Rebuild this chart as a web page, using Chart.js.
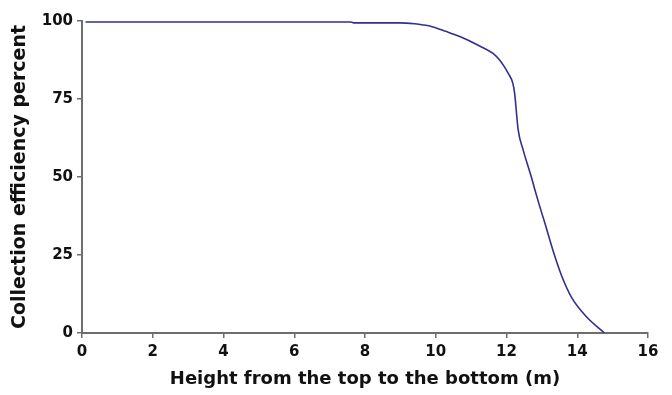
<!DOCTYPE html>
<html>
<head>
<meta charset="utf-8">
<script src="https://cdn.jsdelivr.net/npm/chart.js@4"></script>
<style>
  html, body { margin: 0; padding: 0; background: #fff; }
  #wrap { width: 672px; height: 395px; }
</style>
</head>
<body>
<div id="wrap"><canvas id="chart" width="672" height="395"></canvas></div>
<script>
// values
const heights = [0.1, 2, 4, 6, 7.6, 7.7, 9.0, 9.4, 9.6, 9.83, 10.3, 10.68, 11.24, 11.62, 11.81, 11.9,
                 12.05, 12.18, 12.23, 12.33, 12.47, 12.7, 12.8, 12.92, 13.08, 13.31, 13.55, 13.83, 14.26, 14.77];
const efficiency = [99.7, 99.7, 99.7, 99.7, 99.7, 99.4, 99.4, 99.1, 98.8, 98.4, 96.6, 95.0, 92.0, 89.6, 87.4, 86.0,
                    83.2, 80.0, 76.8, 65.1, 58.7, 50.1, 46.0, 41.3, 35.4, 26.6, 18.6, 11.6, 5.2, 0];
const xTicks = [0, 2, 4, 6, 8, 10, 12, 14, 16];
const yTicks = [0, 25, 50, 75, 100];

const points = heights.map((h, i) => ({ x: h, y: efficiency[i] }));

const tickFont = { family: 'DejaVu Sans, sans-serif', size: 15, weight: 'bold' };
const xTitleFont = { family: 'DejaVu Sans, sans-serif', size: 18, weight: 'bold' };
const yTitleFont = { family: 'DejaVu Sans, sans-serif', size: 19, weight: 'bold' };
const axisGrey = '#6e6e6e';

const ctx = document.getElementById('chart').getContext('2d');
new Chart(ctx, {
    type: 'scatter',
    data: {
        datasets: [{
            data: points,
            showLine: true,
            borderColor: '#30308f',
            borderWidth: 1.6,
            pointRadius: 0,
            cubicInterpolationMode: 'monotone',
            fill: false
        }]
    },
    options: {
        responsive: false,
        animation: false,
        layout: { padding: { left: 0, right: 24, top: 21, bottom: 0 } },
        plugins: { legend: { display: false }, tooltip: { enabled: false } },
        scales: {
            x: {
                type: 'linear',
                min: 0,
                max: 16,
                afterBuildTicks: axis => { axis.ticks = xTicks.map(v => ({ value: v })); },
                afterFit: axis => { axis.height = 62; },
                grid: {
                    drawOnChartArea: false,
                    drawTicks: true,
                    tickLength: 5,
                    color: axisGrey,
                    lineWidth: 1.5
                },
                border: { color: axisGrey, width: 2 },
                ticks: { color: '#111', font: tickFont, padding: 5, maxRotation: 0 },
                title: {
                    display: true,
                    text: 'Height from the top to the bottom (m)',
                    color: '#111',
                    font: xTitleFont,
                    padding: { top: 0, bottom: 5 }
                }
            },
            y: {
                min: 0,
                max: 100,
                afterBuildTicks: axis => { axis.ticks = yTicks.map(v => ({ value: v })); },
                afterFit: axis => { axis.width = 82; },
                grid: {
                    drawOnChartArea: false,
                    drawTicks: true,
                    tickLength: 5,
                    color: axisGrey,
                    lineWidth: 1.5
                },
                border: { color: axisGrey, width: 2 },
                ticks: { color: '#111', font: tickFont, padding: 4 },
                title: {
                    display: true,
                    text: 'Collection efficiency percent',
                    color: '#111',
                    font: yTitleFont,
                    padding: { top: 9, bottom: 0 }
                }
            }
        }
    }
});
</script>
</body>
</html>
